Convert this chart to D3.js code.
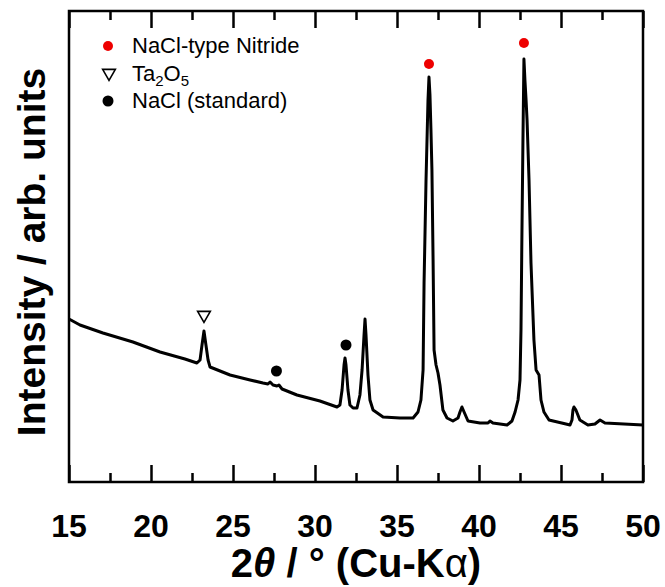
<!DOCTYPE html>
<html><head><meta charset="utf-8">
<script src="https://cdn.jsdelivr.net/npm/d3@7"></script>
<style>body{margin:0;background:#fff}svg{display:block}</style>
</head><body>
<script>
// ---- data ----
const twoTheta = [15.0,15.67,17.07,18.9,20.55,22.07,22.8,22.99,23.11,23.23,23.35,23.48,23.6,24.82,26.04,26.83,27.13,27.26,27.44,27.68,27.8,27.99,28.9,30.3,31.34,31.52,31.65,31.77,31.83,31.89,32.01,32.13,32.32,32.56,32.74,32.87,32.99,33.05,33.11,33.23,33.35,33.54,34.15,35.18,35.98,36.28,36.46,36.59,36.65,36.77,36.83,36.89,36.95,37.01,37.07,37.13,37.2,37.26,37.38,37.5,37.62,37.8,38.05,38.41,38.72,38.84,38.96,39.09,39.33,40.06,40.55,40.67,40.85,41.71,42.01,42.2,42.38,42.5,42.56,42.62,42.68,42.74,42.8,42.87,42.93,43.05,43.17,43.35,43.48,43.66,43.78,43.96,44.27,45.3,45.55,45.67,45.73,45.79,45.91,46.15,46.64,47.07,47.38,47.68,50.0];
const intensity = [163,157,149,140,130,123,119,122,137,151,137,122,115,107,102,99,98,100,97,96,97,93,87,81,75,77,92,117,124,117,92,77,74,74,87,112,147,163,147,107,82,72,65,64,64,70,82,112,199,302,342,382,405,387,352,312,222,132,117,109,97,72,64,61,64,70,75,70,61,59,59,61,59,57,61,70,82,102,152,252,342,423,402,382,362,302,219,142,112,107,82,70,62,58,57,62,72,75,72,62,57,58,62,59,57];
const xTicks = [15,20,25,30,35,40,45,50];
const xMinor = [17.5,22.5,27.5,32.5,37.5,42.5,47.5];
const nitridePeaks = [{x:36.95,y:418},{x:42.74,y:439}];
const ta2o5Peaks = [{x:23.23,y:167}];
const naclPeaks = [{x:27.65,y:111},{x:31.89,y:137}];
const legendItems = ["NaCl-type Nitride","Ta2O5","NaCl (standard)"];

const W=665,H=587;
const m={l:69,r:643,t:11,b:482};
const svg=d3.select("body").append("svg").attr("width",W).attr("height",H)
  .style("font-family","'Liberation Sans',Arial,sans-serif");

const xs=d3.scaleLinear().domain([15,50]).range([m.l,m.r]);
const ys=d3.scaleLinear().domain([0,471]).range([m.b,m.t]);

// frame
svg.append("rect").attr("x",m.l).attr("y",m.t).attr("width",m.r-m.l).attr("height",m.b-m.t)
  .attr("fill","none").attr("stroke","#000").attr("stroke-width",2.5);

// inside ticks, top & bottom, via d3 axes
const mkAxis=(gen,ty,vals,len)=>{
  const g=svg.append("g").attr("transform",`translate(0,${ty})`)
    .call(gen(xs).tickValues(vals).tickSize(len).tickSizeOuter(0).tickFormat(()=>""));
  g.select(".domain").remove();
  g.selectAll(".tick line").attr("stroke","#000").attr("stroke-width",2.5);
  return g;
};
mkAxis(d3.axisTop,m.b,xTicks,17);
mkAxis(d3.axisTop,m.b,xMinor,9);
mkAxis(d3.axisBottom,m.t,xTicks,17);
mkAxis(d3.axisBottom,m.t,xMinor,9);

// tick labels
svg.append("g").selectAll("text").data(xTicks).join("text")
  .attr("x",d=>xs(d)).attr("y",537).attr("text-anchor","middle")
  .attr("font-size",32).attr("font-weight","bold").text(d=>d);

// curve
const pts=twoTheta.map((t,i)=>[t,intensity[i]]);
svg.append("path").datum(pts)
  .attr("d",d3.line().x(d=>xs(d[0])).y(d=>ys(d[1])))
  .attr("fill","none").attr("stroke","#000").attr("stroke-width",3)
  .attr("stroke-linejoin","round");

// markers
svg.selectAll("circle.nit").data(nitridePeaks).join("circle").attr("class","nit")
  .attr("cx",d=>xs(d.x)).attr("cy",d=>ys(d.y)).attr("r",5).attr("fill","#ee0000");
svg.selectAll("circle.nacl").data(naclPeaks).join("circle").attr("class","nacl")
  .attr("cx",d=>xs(d.x)).attr("cy",d=>ys(d.y)).attr("r",5.5).attr("fill","#000");
const tri=d3.symbol().type(d3.symbolTriangle).size(70);
svg.selectAll("path.ta").data(ta2o5Peaks).join("path").attr("class","ta")
  .attr("d",tri).attr("transform",d=>`translate(${xs(d.x)},${ys(d.y)}) rotate(180)`)
  .attr("fill","#fff").attr("stroke","#000").attr("stroke-width",1.6);

// legend
const lg=svg.append("g");
lg.append("circle").attr("cx",108).attr("cy",46).attr("r",5).attr("fill","#ee0000");
lg.append("path").attr("d",tri).attr("transform","translate(109,73) rotate(180)")
  .attr("fill","#fff").attr("stroke","#000").attr("stroke-width",1.6);
lg.append("circle").attr("cx",108).attr("cy",101).attr("r",5.5).attr("fill","#000");
lg.append("text").attr("x",132).attr("y",53).attr("font-size",22).text(legendItems[0]);
const t2=lg.append("text").attr("x",132).attr("y",81).attr("font-size",22);
t2.append("tspan").text("Ta");
t2.append("tspan").attr("font-size",15).attr("dy",5).text("2");
t2.append("tspan").attr("dy",-5).text("O");
t2.append("tspan").attr("font-size",15).attr("dy",5).text("5");
lg.append("text").attr("x",132).attr("y",108).attr("font-size",22).text(legendItems[2]);

// axis titles
const xt=svg.append("text").attr("x",(m.l+m.r)/2).attr("y",577).attr("text-anchor","middle")
  .attr("font-size",40).attr("font-weight","bold");
xt.append("tspan").text("2");
xt.append("tspan").attr("font-style","italic").text("θ");
xt.append("tspan").text(" / ° (Cu-K");
xt.append("tspan").attr("font-weight","normal").text("α");
xt.append("tspan").text(")");

svg.append("text").attr("transform",`translate(45,252) rotate(-90)`)
  .attr("text-anchor","middle").attr("font-size",39).attr("font-weight","bold")
  .text("Intensity / arb. units");
</script>
</body></html>
